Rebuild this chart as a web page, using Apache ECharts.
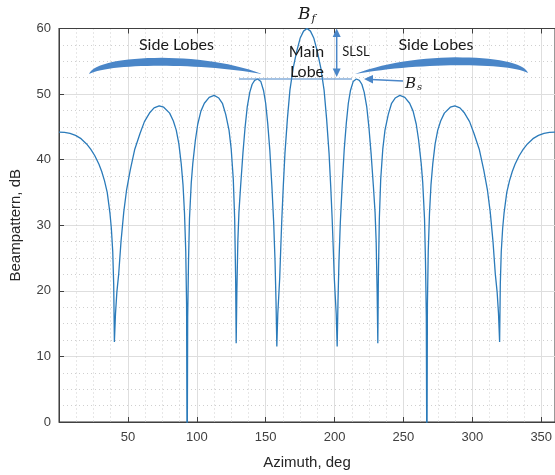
<!DOCTYPE html>
<html>
<head>
<meta charset="utf-8">
<script src="https://cdn.jsdelivr.net/npm/echarts@6/dist/echarts.min.js"></script>
<style>html,body{margin:0;padding:0;background:#fff;}#c{width:555px;height:475px;}</style>
</head>
<body>
<div id="c"></div>
<script>
// Azimuth (deg) and beampattern (dB)
const azimuthDeg = [
  0,4,8,12,16,20,23,26,29,31,33,35,37,38,39,39.7,40.2,
  41,42,43.3,45,47,49,51.7,55,58.8,62,66,69,72.7,76,80.3,83,85.1,87,88.7,90,91.1,92,92.6,93,
  93.4,94,94.7,96,97.1,99,100.7,103,105.5,109,112.6,116,118.6,121,123.4,125,126.5,127.5,128.2,128.6,
  129.1,129.8,130.6,131.8,133.5,135,136.6,138.5,140.2,142,144.2,146.5,148.5,150,151.5,153,154.5,155.8,156.8,157.5,158.1,
  158.8,159.5,160.2,161,161.7,162.8,164,165.8,167.6,170,172.4,175,177.5,180,182.5,185,187.6,190,192.4,194.2,196,197.2,198.3,199,199.8,200.5,201.2,201.9,
  202.5,203.2,204.2,205.5,207,208.5,210,211.5,213.5,215.8,218,219.8,221.5,223.4,225,226.5,228.2,229.4,230.2,230.9,231.4,
  231.8,232.5,233.5,235,236.6,239,241.4,244,247.4,251,254.5,257,259.3,261,262.9,264,265.3,266,266.6,267,
  267.4,268,268.9,270,271.3,273,274.9,277,279.7,284,287.3,291,294,298,301.2,305,308.3,311,313,315,316.7,318,319,319.8,
  320.3,321,322,323,325,327,329,331,334,337,340,344,348,352,356,360
];
const beampatternDb = [
  44.2,44.15,44.0,43.7,43.2,42.4,41.6,40.6,39.3,38.2,36.8,35.0,31.8,29.5,26.0,21.0,12.2,
  16.5,19.8,22.5,27.5,32.0,35.3,38.4,41.6,44.0,45.8,47.2,47.9,48.2,48.0,47.1,45.9,44.5,42.4,39.4,36.2,31.8,26.0,18.0,-10,
  16,24.5,31.0,36.5,39.4,43.0,45.4,47.4,48.6,49.5,49.8,49.4,48.6,46.9,44.5,41.6,37.0,31.0,22.0,12.0,
  20.0,27.5,32.0,35.9,41.0,44.8,48.0,50.3,51.5,52.1,52.3,51.9,50.5,48.6,45.5,41.5,36.0,30.5,24.5,18.5,11.5,
  16.5,19.2,22.0,26.8,30.8,36.0,41.0,46.3,50.6,54.0,56.4,58.5,59.6,60.0,59.6,58.5,56.4,54.0,50.6,46.3,41.0,36.0,30.8,26.8,22.0,19.2,16.5,11.5,
  18.5,24.5,30.5,36.0,41.5,45.5,48.6,50.5,51.9,52.3,52.1,51.5,50.3,48.0,44.8,41.0,35.9,32.0,27.5,20.0,12.0,
  22.0,31.0,37.0,41.6,44.5,46.9,48.6,49.4,49.8,49.5,48.6,47.4,45.4,43.0,39.4,36.5,31.0,24.5,16,-10,
  18.0,26.0,31.8,36.2,39.4,42.4,44.5,45.9,47.1,48.0,48.2,47.9,47.2,45.8,44.0,41.6,38.4,35.3,32.0,27.5,22.5,19.8,16.5,12.2,
  21.0,26.0,29.5,31.8,35.0,36.8,38.2,39.3,40.6,41.6,42.4,43.2,43.7,44.0,44.15,44.2
];
const xTickStep = 50;
const yTickStep = 10;

const pairs = azimuthDeg.map((x, i) => [x, beampatternDb[i]]);
const axisCol = '#404040';
const annCol = '#4a86c8';
const txtFont = 'Lato, "Open Sans", sans-serif';

// brush-stroke shaped annotation: two cubic bezier edges sampled into a polygon
function cubic(p0, p1, p2, p3, n) {
  const out = [];
  for (let i = 0; i <= n; i++) {
    const t = i / n, u = 1 - t;
    out.push([
      u*u*u*p0[0] + 3*u*u*t*p1[0] + 3*u*t*t*p2[0] + t*t*t*p3[0],
      u*u*u*p0[1] + 3*u*u*t*p1[1] + 3*u*t*t*p2[1] + t*t*t*p3[1]
    ]);
  }
  return out;
}
function stroke(a, top1, top2, b, bot1, bot2) {
  return cubic(a, top1, top2, b, 30).concat(cubic(b, bot1, bot2, a, 30).slice(1));
}
const leftArc = stroke([89, 74], [95, 55], [200, 50], [262, 74], [200, 63], [110, 63]);
const rightArc = stroke([528, 73], [522, 54], [417, 50], [355, 74], [417, 63], [507, 62]);

const Z = 100;
const chart = echarts.init(document.getElementById('c'), null, {renderer: 'canvas'});
chart.setOption({
  animation: false,
  backgroundColor: '#ffffff',
  grid: {left: 56, right: -3, top: 28.5, bottom: 53, show: true, borderColor: '#333', borderWidth: 1, backgroundColor: '#fff'},
  xAxis: [{
    type: 'value', min: 0, max: 360, interval: xTickStep,
    name: 'Azimuth, deg', nameLocation: 'middle', nameGap: 33,
    nameTextStyle: {fontFamily: 'Liberation Sans, Arial', fontSize: 15, color: '#262626'},
    axisLine: {show: true, lineStyle: {color: axisCol, width: 1}},
    axisTick: {show: true, inside: true, length: 5, lineStyle: {color: axisCol}},
    axisLabel: {margin: 9, fontFamily: 'Liberation Sans, Arial', fontSize: 13, color: '#404040', showMaxLabel: false, showMinLabel: false},
    splitLine: {show: true, lineStyle: {color: '#dedede', width: 1}},
    minorTick: {show: true, splitNumber: 4, length: 0},
    minorSplitLine: {show: true, lineStyle: {color: '#cfcfcf', width: 1, type: [1, 3]}}
  }, {
    type: 'value', position: 'top', min: 0, max: 360, interval: xTickStep,
    axisLine: {show: true, lineStyle: {color: axisCol, width: 1}},
    axisTick: {show: true, inside: true, length: 5, lineStyle: {color: axisCol}},
    axisLabel: {show: false}, splitLine: {show: false}
  }],
  yAxis: {
    type: 'value', min: 0, max: 60, interval: yTickStep,
    name: 'Beampattern, dB', nameLocation: 'middle', nameGap: 36, nameRotate: 90,
    nameTextStyle: {fontFamily: 'Liberation Sans, Arial', fontSize: 15, color: '#262626'},
    axisLine: {show: true, lineStyle: {color: axisCol, width: 1}},
    axisTick: {show: true, inside: true, length: 5, lineStyle: {color: axisCol}},
    axisLabel: {margin: 8, fontFamily: 'Liberation Sans, Arial', fontSize: 13, color: '#404040'},
    splitLine: {show: true, lineStyle: {color: '#dedede', width: 1}},
    minorTick: {show: true, splitNumber: 4, length: 0},
    minorSplitLine: {show: true, lineStyle: {color: '#cfcfcf', width: 1, type: [1, 3]}}
  },
  series: [{
    type: 'line', data: pairs, showSymbol: false, clip: true,
    lineStyle: {color: '#2b7bba', width: 1.3}
  }],
  graphic: [
    {type: 'polygon', z: Z, shape: {points: leftArc}, style: {fill: annCol}},
    {type: 'polygon', z: Z, shape: {points: rightArc}, style: {fill: annCol}},
    {type: 'line', z: Z, shape: {x1: 239, y1: 79, x2: 352, y2: 79}, style: {stroke: annCol, lineWidth: 1.2}},
    {type: 'line', z: Z, shape: {x1: 336.7, y1: 34, x2: 336.7, y2: 71}, style: {stroke: annCol, lineWidth: 1.5}},
    {type: 'polygon', z: Z, shape: {points: [[336.7, 28.5], [332.7, 37], [340.7, 37]]}, style: {fill: annCol}},
    {type: 'polygon', z: Z, shape: {points: [[336.7, 77], [332.7, 68.5], [340.7, 68.5]]}, style: {fill: annCol}},
    {type: 'line', z: Z, shape: {x1: 403, y1: 81, x2: 371, y2: 79.5}, style: {stroke: annCol, lineWidth: 1.5}},
    {type: 'polygon', z: Z, shape: {points: [[364, 79], [373, 75], [373, 83.5]]}, style: {fill: annCol}},
    {type: 'text', z: Z, x: 176.5, y: 45, style: {text: 'Side Lobes', font: '16px ' + txtFont, fill: '#1a1a1a', align: 'center', verticalAlign: 'middle'}},
    {type: 'text', z: Z, x: 436, y: 45, style: {text: 'Side Lobes', font: '16px ' + txtFont, fill: '#1a1a1a', align: 'center', verticalAlign: 'middle'}},
    {type: 'text', z: Z, x: 306.5, y: 51.5, style: {text: 'Main', font: '16px ' + txtFont, fill: '#1a1a1a', align: 'center', verticalAlign: 'middle'}},
    {type: 'text', z: Z, x: 307, y: 71.5, style: {text: 'Lobe', font: '16px ' + txtFont, fill: '#1a1a1a', align: 'center', verticalAlign: 'middle'}},
    {type: 'text', z: Z, x: 356, y: 51.5, style: {text: 'SLSL', font: '13px ' + txtFont, fill: '#1a1a1a', align: 'center', verticalAlign: 'middle'}},
    {type: 'text', z: Z, x: 298, y: 15, style: {text: '{b|B}{s|f}', align: 'left', verticalAlign: 'middle',
      rich: {b: {font: 'italic 17px "DejaVu Serif", serif', fill: '#1a1a1a'}, s: {font: 'italic 11px "DejaVu Serif", serif', fill: '#1a1a1a', padding: [8, 0, 0, 1]}}}},
    {type: 'text', z: Z, x: 405, y: 84, style: {text: '{b|B}{s|s}', align: 'left', verticalAlign: 'middle',
      rich: {b: {font: 'italic 15px "DejaVu Serif", serif', fill: '#1a1a1a'}, s: {font: 'italic 10px "DejaVu Serif", serif', fill: '#1a1a1a', padding: [7, 0, 0, 1]}}}}
  ]
});
</script>
</body>
</html>
